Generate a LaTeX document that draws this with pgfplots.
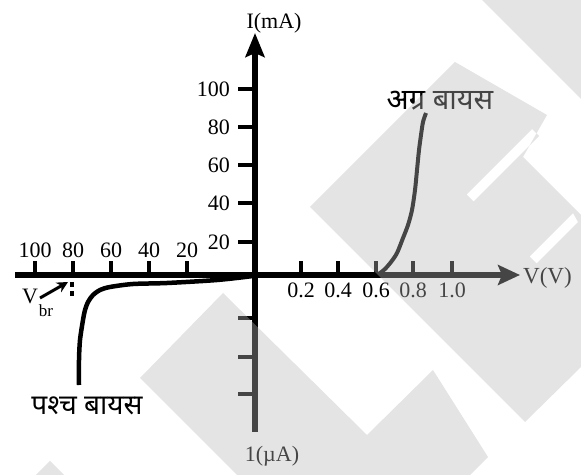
\documentclass[border=0pt]{standalone}
\usepackage{pgfplots}
\pgfplotsset{compat=1.18}
\usepackage{fontspec}
\setmainfont{Liberation Serif}
\newfontfamily\hindi[Script=Devanagari]{Noto Sans}
\usetikzlibrary{arrows.meta}
\definecolor{wmgray}{rgb}{0.72,0.72,0.72}
\begin{document}
\begin{tikzpicture}
\begin{axis}[
  scale only axis,
  width=505bp, height=399bp,
  xmin=-240, xmax=265, ymin=-157, ymax=242,
  enlargelimits=false,
  clip=false,
  axis lines=middle,
  axis line style={line width=5.5bp, black},
  x axis line style={-{Stealth[length=22bp,width=20bp,inset=4bp]}},
  y axis line style={-{Stealth[length=24bp,width=19bp,inset=4bp]}},
  /pgf/number format/assume math mode=true,
  tick label style={font=\fontsize{22bp}{25bp}\selectfont, inner sep=0pt},
  major tick length=17bp,
  tick style={line width=4bp, black},
  xtick align=inside,
  ytick align=outside,
  xtick style={yshift=-3bp},
  xtick={46,83,121,158,197},
  xticklabels={0.2,0.4,0.6,0.8,1.0},
  xticklabel style={anchor=north, yshift=-8bp},
  extra x ticks={-220,-182,-144,-106,-68},
  extra x tick labels={100,80,60,40,20},
  extra x tick style={xticklabel style={anchor=south, yshift=25bp}},
  ytick={-119,-82,-43,33,72,110,148,186},
  yticklabels={,,,20,40,60,80,100},
  yticklabel style={anchor=east, xshift=-8bp},
]
% forward bias
\addplot[line width=4bp, black, smooth, tension=0.5] coordinates {
 (121,0) (125,2) (130,6) (136,13) (142,22) (148,37) (153,50) (157,65)
 (160,85) (162,105) (164,125) (166,140) (168,153) (171,162)};
% reverse bias
\addplot[line width=4.5bp, black, smooth, tension=0.5] coordinates {
 (0,0) (-2,-1) (-38,-5) (-88,-8) (-122,-9) (-145,-12) (-155,-15) (-162,-20)
 (-167,-27) (-170,-35) (-172,-45) (-175,-65) (-176,-85) (-176,-110)};
% breakdown marker
\addplot[line width=4bp, black, dash pattern=on 5bp off 4bp] coordinates {(-183.5,2) (-183.5,-21)};
\draw[line width=3bp, -{Stealth[length=11bp,width=11bp]}] (axis cs:-215,-23) -- (axis cs:-187,-7);
\node[font=\fontsize{22bp}{25bp}\selectfont, inner sep=0pt] at (axis cs:-225,-21) {V};
\node[font=\fontsize{17bp}{19bp}\selectfont, inner sep=0pt] at (axis cs:-209,-36) {br};
% labels
\node[font=\fontsize{22bp}{25bp}\selectfont, inner sep=0pt] at (axis cs:19,252) {I(mA)};
\node[font=\fontsize{23bp}{25bp}\selectfont, inner sep=0pt, anchor=west] at (axis cs:268,-3) {V(V)};
\node[font=\fontsize{22bp}{25bp}\selectfont, inner sep=0pt] at (axis cs:17,-181) {1(µA)};
\node[font=\hindi\fontsize{29bp}{32bp}\selectfont, inner sep=0pt] at (axis cs:185,174) {अग्र बायस};
\node[font=\hindi\fontsize{28bp}{32bp}\selectfont, inner sep=0pt] at (axis cs:-168,-131) {पश्च बायस};
\coordinate (O) at (axis cs:-255,275);
\end{axis}
\begin{scope}[shift={(O)}, x=1bp, y=-1bp]
  \fill[wmgray, fill opacity=0.38] (482,0) -- (581,0) -- (581,99) -- cycle;
  \fill[wmgray, fill opacity=0.38, even odd rule]
    (455,62) -- (547,115) -- (523,157) -- (578,212) -- (581,215) -- (581,367) -- (525,422) -- (310,207) -- cycle
    (466.5,194.5) -- (532,129) -- (539,136) -- (473.5,201.5) -- cycle
    (529.5,256.5) -- (573,213) -- (578,222) -- (536.5,263.5) -- cycle;
  \fill[wmgray, fill opacity=0.38] (223,293) -- (367,435) -- (433,370) -- (488,457) -- (470,475) -- (237,475) -- (140,378) -- cycle;
  \fill[wmgray, fill opacity=0.38] (36,475) -- (50,461) -- (64,475) -- cycle;
  \pgfresetboundingbox
  \useasboundingbox (0,0) rectangle (581,475);
\end{scope}
\end{tikzpicture}
\end{document}
